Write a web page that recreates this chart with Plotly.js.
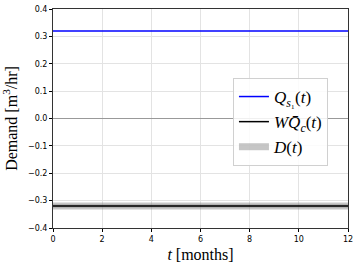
<!DOCTYPE html>
<html><head><meta charset="utf-8">
<script src="https://cdn.plot.ly/plotly-3.0.1.min.js"></script>
<style>html,body{margin:0;padding:0;background:#fff}#c{width:360px;height:270px}</style>
</head><body><div id="c"></div>
<script>
const months = [0, 1, 2, 3, 4, 5, 6, 7, 8, 9, 10, 11, 12];
const Qs1 = [0.32, 0.32, 0.32, 0.32, 0.32, 0.32, 0.32, 0.32, 0.32, 0.32, 0.32, 0.32, 0.32];
const WQc = [-0.32, -0.32, -0.32, -0.32, -0.32, -0.32, -0.32, -0.32, -0.32, -0.32, -0.32, -0.32, -0.32];
const D = [-0.32, -0.32, -0.32, -0.32, -0.32, -0.32, -0.32, -0.32, -0.32, -0.32, -0.32, -0.32, -0.32];
const yTicks = [-0.4, -0.3, -0.2, -0.1, 0.0, 0.1, 0.2, 0.3, 0.4];
const yTickText = ['−0.4', '−0.3', '−0.2', '−0.1', '0.0', '0.1', '0.2', '0.3', '0.4'];
const xTicks = [0, 2, 4, 6, 8, 10, 12];

const serif = 'Liberation Serif, DejaVu Serif, serif';
const traces = [
  {x: months, y: D, mode: 'lines', name: '<i>D</i>(<i>t</i>)', line: {color: 'rgba(128,128,128,0.45)', width: 7}, legendrank: 3},
  {x: months, y: D, mode: 'lines', showlegend: false, line: {color: 'rgba(128,128,128,0.55)', width: 3}, hoverinfo: 'skip'},
  {x: months, y: Qs1, mode: 'lines', name: '<i>Q</i><sub><i>s</i>₁</sub>(<i>t</i>)', line: {color: '#0000ff', width: 1.5}, legendrank: 1},
  {x: months, y: WQc, mode: 'lines', name: '<i>WQ̄</i><sub><i>c</i></sub>(<i>t</i>)', line: {color: '#000000', width: 1.5}, legendrank: 2}
];
const layout = {
  width: 360, height: 270,
  margin: {l: 53, r: 12, t: 9, b: 42},
  paper_bgcolor: '#fff', plot_bgcolor: '#fff',
  font: {family: 'DejaVu Sans, sans-serif', size: 8, color: '#000'},
  showlegend: true,
  legend: {x: 0.61, y: 0.685, xanchor: 'left', yanchor: 'top', bgcolor: 'rgba(255,255,255,0.85)',
           bordercolor: '#d0d0d0', borderwidth: 1, font: {family: serif, size: 17, color: '#000'},
           traceorder: 'normal'},
  xaxis: {range: [0, 12], tickvals: xTicks, ticks: 'outside', ticklen: 3, tickcolor: '#000',
          showgrid: true, gridcolor: '#e3e3e3', gridwidth: 1, zeroline: false,
          showline: true, linecolor: '#333', linewidth: 1, mirror: true,
          title: {text: '<i>t</i> [months]', font: {family: serif, size: 16, color: '#000'}, standoff: 6}},
  yaxis: {range: [-0.4, 0.4], tickvals: yTicks, ticktext: yTickText, ticks: 'outside', ticklen: 3, tickcolor: '#000',
          showgrid: true, gridcolor: '#e3e3e3', gridwidth: 1,
          zeroline: true, zerolinecolor: '#999', zerolinewidth: 1,
          showline: true, linecolor: '#333', linewidth: 1, mirror: true,
          title: {text: 'Demand [m<sup>3</sup>/hr]', font: {family: serif, size: 16, color: '#000'}, standoff: 6}}
};
Plotly.newPlot('c', traces, layout, {displayModeBar: false, staticPlot: true});
</script></body></html>
